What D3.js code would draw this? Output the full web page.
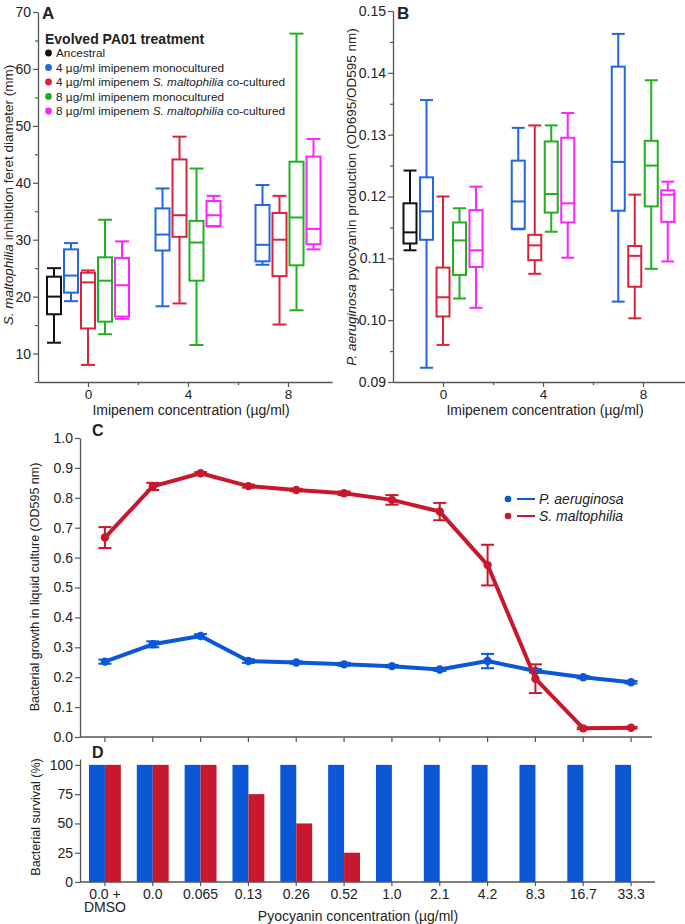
<!DOCTYPE html>
<html><head><meta charset="utf-8">
<script src="https://cdn.jsdelivr.net/npm/d3@7"></script>
<style>
body{margin:0;background:#fff;}
svg{font-family:"Liberation Sans",Arial,Helvetica,sans-serif;}
</style></head><body>
<svg id="chart" width="685" height="924"></svg>
<script>
// ---------- DATA ----------
const imipenemGroups = [0, 4, 8];
const treatmentLabels = [
  "Ancestral",
  "4 µg/ml imipenem monocultured",
  "4 µg/ml imipenem S. maltophilia co-cultured",
  "8 µg/ml imipenem monocultured",
  "8 µg/ml imipenem S. maltophilia co-cultured"
];
const treatmentColors = ["#111111", "#2266e0", "#d8253c", "#20b020", "#ff22ff"];

// Panel A: [min, q1, median, q3, max] per imipenem group (0, 4, 8)
const diamAncestral = [[11.9, 16.9, 20.0, 23.5, 25.0], null, null];
const diam4Mono = [[19.2, 20.7, 23.7, 28.3, 29.4], [18.3, 28.1, 30.9, 35.5, 39.0], [25.6, 26.2, 29.1, 36.1, 39.6]];
const diam4Co   = [[8.0, 14.4, 22.5, 24.2, 24.6], [18.8, 30.5, 34.3, 44.1, 48.1], [15.1, 23.6, 30.0, 34.7, 37.7]];
const diam8Mono = [[13.4, 15.6, 22.8, 26.9, 33.5], [11.5, 22.8, 29.5, 33.3, 42.5], [17.6, 25.5, 33.9, 43.7, 66.2]];
const diam8Co   = [[16.1, 16.5, 22.0, 26.8, 29.7], [32.3, 32.4, 34.3, 36.8, 37.7], [28.3, 29.2, 31.9, 44.6, 47.7]];

// Panel B
const pyoAncestral = [[0.1113, 0.1124, 0.1142, 0.1189, 0.1242], null, null];
const pyo4Mono = [[0.0923, 0.1130, 0.1176, 0.1231, 0.1356], [0.1147, 0.1148, 0.1192, 0.1258, 0.1311], [0.1030, 0.1177, 0.1256, 0.1410, 0.1463]];
const pyo4Co   = [[0.0960, 0.1006, 0.1037, 0.1085, 0.1200], [0.1075, 0.1097, 0.1121, 0.1138, 0.1315], [0.1003, 0.1054, 0.1104, 0.1120, 0.1203]];
const pyo8Mono = [[0.1035, 0.1073, 0.1129, 0.1158, 0.1181], [0.1143, 0.1174, 0.1204, 0.1289, 0.1315], [0.1083, 0.1184, 0.1250, 0.1290, 0.1388]];
const pyo8Co   = [[0.1020, 0.1086, 0.1113, 0.1178, 0.1216], [0.1101, 0.1158, 0.1189, 0.1295, 0.1335], [0.1095, 0.1159, 0.1203, 0.1210, 0.1224]];

const diamYTicks = [10, 20, 30, 40, 50, 60, 70];
const pyoYTicks = [0.09, 0.10, 0.11, 0.12, 0.13, 0.14, 0.15];

// Panels C & D
const pyocyaninConc = ["0.0 +|DMSO", "0.0", "0.065", "0.13", "0.26", "0.52", "1.0", "2.1", "4.2", "8.3", "16.7", "33.3"];
const paGrowth = [0.252, 0.310, 0.338, 0.254, 0.249, 0.243, 0.237, 0.226, 0.254, 0.221, 0.200, 0.183];
const paErr    = [0.007, 0.010, 0.006, 0.006, 0.004, 0.005, 0.004, 0.005, 0.024, 0.006, 0.004, 0.004];
const smGrowth = [0.667, 0.838, 0.882, 0.839, 0.826, 0.815, 0.793, 0.754, 0.575, 0.195, 0.029, 0.031];
const smErr    = [0.035, 0.012, 0.004, 0.005, 0.004, 0.006, 0.016, 0.029, 0.068, 0.048, 0.003, 0.003];
const paSurvival = [100, 100, 100, 100, 100, 100, 100, 100, 100, 100, 100, 100];
const smSurvival = [100, 100, 100, 75, 50, 25, 0, 0, 0, 0, 0, 0];
const growthYTicks = [0, 0.1, 0.2, 0.3, 0.4, 0.5, 0.6, 0.7, 0.8, 0.9, 1.0];
const survivalYTicks = [0, 25, 50, 75, 100];
const speciesNames = ["P. aeruginosa", "S. maltophilia"];
const speciesColors = ["#0a58d6", "#c8182e"];

// ---------- DRAW ----------
const svg = d3.select("#chart");
const TEXT = "#222";
const AXIS = "#555";

function styleAxis(g) {
  g.selectAll("path.domain").attr("stroke", AXIS).attr("stroke-width", 1.3);
  g.selectAll(".tick line").attr("stroke", AXIS).attr("stroke-width", 1.2);
  g.selectAll(".tick text").attr("fill", TEXT).style("font-size", "14px");
}

function boxPanel(opts) {
  const { series, x, y, yTicks, yMinor, fmt, spacing, boxW, yAxisX, xAxisY } = opts;
  const gy = svg.append("g").attr("transform", `translate(${yAxisX},0)`)
    .call(d3.axisLeft(y).tickValues(yTicks).tickFormat(fmt).tickSize(5).tickPadding(2).tickSizeOuter(0));
  styleAxis(gy);
  const gym = svg.append("g").attr("transform", `translate(${yAxisX},0)`)
    .call(d3.axisLeft(y).tickValues(yMinor).tickFormat("").tickSize(3).tickSizeOuter(0));
  styleAxis(gym); gym.select("path.domain").remove();
  const gx = svg.append("g").attr("transform", `translate(0,${xAxisY})`)
    .call(d3.axisBottom(x).tickValues(imipenemGroups).tickSize(5).tickPadding(2).tickSizeOuter(0));
  styleAxis(gx);
  gx.selectAll(".tick text").style("font-size", "13.5px");
  const gxm = svg.append("g").attr("transform", `translate(0,${xAxisY})`)
    .call(d3.axisBottom(x).tickValues([2, 6]).tickFormat("").tickSize(3).tickSizeOuter(0));
  styleAxis(gxm); gxm.select("path.domain").remove();

  imipenemGroups.forEach((grp, gi) => {
    const present = series.map((s, si) => ({ s: s[gi], si })).filter(d => d.s);
    const n = present.length;
    present.forEach((d, k) => {
      const cx = x(grp) + (k - (n - 1) / 2) * spacing;
      const [mn, q1, md, q3, mx] = d.s;
      const col = treatmentColors[d.si];
      const g = svg.append("g").attr("stroke", col).attr("stroke-width", 2).attr("fill", "none");
      g.append("line").attr("x1", cx).attr("x2", cx).attr("y1", y(mx)).attr("y2", y(q3));
      g.append("line").attr("x1", cx).attr("x2", cx).attr("y1", y(q1)).attr("y2", y(mn));
      g.append("line").attr("x1", cx - boxW / 2).attr("x2", cx + boxW / 2).attr("y1", y(mx)).attr("y2", y(mx));
      g.append("line").attr("x1", cx - boxW / 2).attr("x2", cx + boxW / 2).attr("y1", y(mn)).attr("y2", y(mn));
      g.append("rect").attr("x", cx - boxW / 2).attr("width", boxW)
        .attr("y", y(q3)).attr("height", Math.max(0.5, y(q1) - y(q3))).attr("fill", "#fff");
      g.append("line").attr("x1", cx - boxW / 2).attr("x2", cx + boxW / 2).attr("y1", y(md)).attr("y2", y(md));
    });
  });
}

// Panel A
const xA = d3.scaleLinear().domain([-2, 9.76]).range([38, 332]);
const yA = d3.scaleLinear().domain([5, 70]).range([382, 12]);
boxPanel({
  series: [diamAncestral, diam4Mono, diam4Co, diam8Mono, diam8Co],
  x: xA, y: yA, yTicks: diamYTicks, yMinor: [5, 15, 25, 35, 45, 55, 65],
  fmt: d3.format("d"), spacing: 17, boxW: 14, yAxisX: 38, xAxisY: 382
});
// Panel B
const xB = d3.scaleLinear().domain([-2, 9.68]).range([393, 685]);
const yB = d3.scaleLinear().domain([0.09, 0.15]).range([382, 11]);
boxPanel({
  series: [pyoAncestral, pyo4Mono, pyo4Co, pyo8Mono, pyo8Co],
  x: xB, y: yB, yTicks: pyoYTicks, yMinor: [0.095, 0.105, 0.115, 0.125, 0.135, 0.145],
  fmt: d3.format(".2f"), spacing: 16.5, boxW: 13, yAxisX: 393, xAxisY: 382
});

function txt(x, y, s, size, extra) {
  const t = svg.append("text").attr("x", x).attr("y", y).attr("fill", TEXT).style("font-size", size + "px").text(s);
  if (extra) extra(t);
  return t;
}
txt(42, 19, "A", 17, t => t.attr("font-weight", "bold"));
txt(397, 19, "B", 17, t => t.attr("font-weight", "bold"));
txt(191, 414.5, "Imipenem concentration (µg/ml)", 14, t => t.attr("text-anchor", "middle"));
txt(545, 414.5, "Imipenem concentration (µg/ml)", 14, t => t.attr("text-anchor", "middle"));

const yTitleA = svg.append("text").attr("transform", `translate(13,195) rotate(-90)`)
  .attr("text-anchor", "middle").attr("fill", TEXT).style("font-size", "13.5px");
yTitleA.append("tspan").attr("font-style", "italic").text("S. maltophilia");
yTitleA.append("tspan").text(" inhibition feret diameter (mm)");
const yTitleB = svg.append("text").attr("transform", `translate(356,197) rotate(-90)`)
  .attr("text-anchor", "middle").attr("fill", TEXT).style("font-size", "13.5px");
yTitleB.append("tspan").attr("font-style", "italic").text("P. aeruginosa");
yTitleB.append("tspan").text(" pyocyanin production (OD695/OD595 nm)");

// Legend A
txt(45, 44, "Evolved PA01 treatment", 14, t => t.attr("font-weight", "bold"));
treatmentLabels.forEach((lab, i) => {
  const cy = 53 + i * 14.5;
  svg.append("circle").attr("cx", 48.5).attr("cy", cy).attr("r", 3.4).attr("fill", treatmentColors[i]);
  const t = svg.append("text").attr("x", 56).attr("y", cy + 4.2).attr("fill", TEXT).style("font-size", "11.8px");
  const parts = lab.split("S. maltophilia");
  t.append("tspan").text(parts[0]);
  if (parts.length > 1) {
    t.append("tspan").attr("font-style", "italic").text("S. maltophilia");
    t.append("tspan").text(parts[1]);
  }
});

// Panel C
const xC = d3.scaleBand().domain(pyocyaninConc).range([81, 655]).padding(0);
const cxC = d => xC(d) + xC.bandwidth() / 2;
const yC = d3.scaleLinear().domain([0, 1]).range([737, 438]);
const gyC = svg.append("g").attr("transform", "translate(80,0)")
  .call(d3.axisLeft(yC).tickValues(growthYTicks).tickFormat(d3.format(".1f")).tickSize(5).tickPadding(2).tickSizeOuter(0));
styleAxis(gyC);
const gxC = svg.append("g").attr("transform", "translate(0,737)")
  .call(d3.axisBottom(xC).tickSize(5).tickFormat("").tickSizeOuter(0));
styleAxis(gxC);
gxC.select("path.domain").attr("d", "M80,0H652");

const growth = [
  { v: paGrowth, e: paErr, c: speciesColors[0] },
  { v: smGrowth, e: smErr, c: speciesColors[1] }
];
growth.forEach(s => {
  const pts = pyocyaninConc.map((k, i) => ({ x: cxC(k), v: s.v[i], e: s.e[i] }));
  const g = svg.append("g");
  g.append("path").datum(pts)
    .attr("d", d3.line().x(d => d.x).y(d => yC(d.v)))
    .attr("fill", "none").attr("stroke", s.c).attr("stroke-width", 4).attr("stroke-linejoin", "round");
  pts.forEach(d => {
    const eg = g.append("g").attr("stroke", s.c).attr("stroke-width", 2);
    eg.append("line").attr("x1", d.x).attr("x2", d.x).attr("y1", yC(d.v + d.e)).attr("y2", yC(d.v - d.e));
    eg.append("line").attr("x1", d.x - 6.5).attr("x2", d.x + 6.5).attr("y1", yC(d.v + d.e)).attr("y2", yC(d.v + d.e));
    eg.append("line").attr("x1", d.x - 6.5).attr("x2", d.x + 6.5).attr("y1", yC(d.v - d.e)).attr("y2", yC(d.v - d.e));
    g.append("circle").attr("cx", d.x).attr("cy", yC(d.v)).attr("r", 4.2).attr("fill", s.c);
  });
});
txt(92, 436, "C", 16, t => t.attr("font-weight", "bold"));
txt(39, 587, "Bacterial growth in liquid culture (OD595 nm)", 12.5,
  t => t.attr("transform", "rotate(-90,39,587)").attr("text-anchor", "middle"));

speciesNames.forEach((nm, i) => {
  const cy = 499 + i * 17;
  svg.append("circle").attr("cx", 508).attr("cy", cy).attr("r", 3.3).attr("fill", speciesColors[i]);
  svg.append("line").attr("x1", 517).attr("x2", 535).attr("y1", cy).attr("y2", cy)
    .attr("stroke", speciesColors[i]).attr("stroke-width", 2);
  txt(539, cy + 5, nm, 14, t => t.attr("font-style", "italic"));
});

// Panel D
const yD = d3.scaleLinear().domain([0, 105]).range([882, 759]);
const inner = d3.scaleBand().domain([0, 1]).range([0, xC.bandwidth()]).paddingInner(0).paddingOuter(0.5);
const gyD = svg.append("g").attr("transform", "translate(80,0)")
  .call(d3.axisLeft(yD).tickValues(survivalYTicks).tickSize(5).tickPadding(2).tickSizeOuter(0));
styleAxis(gyD);
[paSurvival, smSurvival].forEach((vals, si) => {
  svg.append("g").selectAll("rect").data(pyocyaninConc).join("rect")
    .attr("x", d => xC(d) + inner(si))
    .attr("width", inner.bandwidth())
    .attr("y", (d, i) => yD(vals[i]))
    .attr("height", (d, i) => yD(0) - yD(vals[i]))
    .attr("fill", speciesColors[si]);
});
const gxD = svg.append("g").attr("transform", "translate(0,882)")
  .call(d3.axisBottom(xC).tickSize(4).tickSizeOuter(0).tickFormat(""));
styleAxis(gxD);
gxD.select("path.domain").attr("d", "M80,0H655");
gxD.selectAll(".tick").each(function (d) {
  const lines = d.split("|");
  const t = d3.select(this).append("text").attr("fill", TEXT).style("font-size", "14px").attr("text-anchor", "middle");
  lines.forEach((l, i) => t.append("tspan").attr("x", 0).attr("y", 17 + i * 13).text(l));
});
txt(92, 758, "D", 16, t => t.attr("font-weight", "bold"));
txt(40, 817, "Bacterial survival (%)", 12.5,
  t => t.attr("transform", "rotate(-90,40,817)").attr("text-anchor", "middle"));
txt(358, 921, "Pyocyanin concentration (µg/ml)", 14, t => t.attr("text-anchor", "middle"));
</script></body></html>
